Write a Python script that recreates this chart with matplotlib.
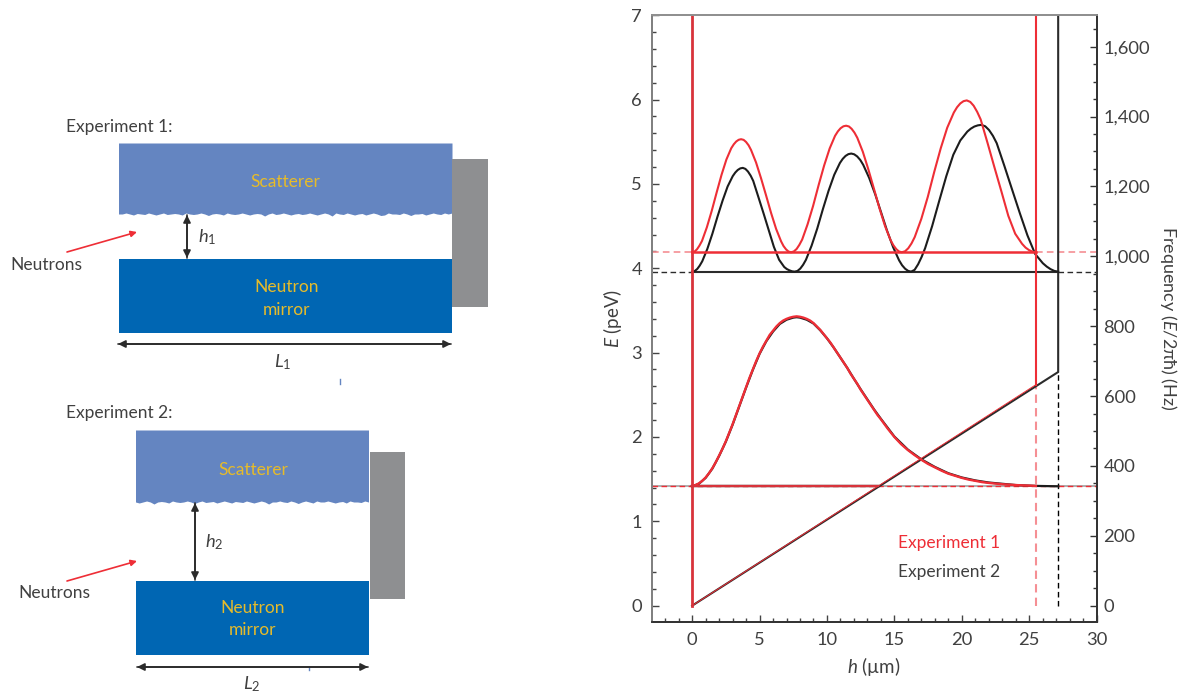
import numpy as np
import matplotlib
matplotlib.use('Agg')
import matplotlib.pyplot as plt
from matplotlib.patches import Polygon, Rectangle

plt.rcParams['font.family'] = ['Lato', 'DejaVu Sans']
plt.rcParams['mathtext.fontset'] = 'custom'
plt.rcParams['mathtext.rm'] = 'Lato'
plt.rcParams['mathtext.it'] = 'Lato:italic'

# lowest state, both experiments lie almost on top of each other
ground_h = [0, 0.25, 0.5, 0.75, 1, 1.25, 1.5, 1.75, 2, 2.25, 2.5, 2.75, 3, 3.25, 3.5, 3.75, 4, 4.25, 4.5, 4.75,
            5, 5.25, 5.5, 5.75, 6, 6.25, 6.5, 6.75, 7, 7.25, 7.5, 7.75, 8, 8.25, 8.5, 8.75, 9, 9.25, 9.5, 9.75,
            10, 10.25, 10.5, 10.75, 11, 11.25, 11.5, 11.75, 12, 12.25, 12.5, 12.75, 13, 13.25, 13.5, 13.75,
            14, 14.5, 15, 15.5, 16, 16.5, 17, 17.5, 18, 18.5, 19, 19.5, 20, 20.5, 21, 21.5, 22, 23, 24, 25.5]
ground_red = [1.42, 1.43, 1.45, 1.48, 1.52, 1.57, 1.63, 1.70, 1.78, 1.86, 1.95, 2.05, 2.15, 2.26, 2.37, 2.48, 2.59,
              2.70, 2.80, 2.90, 2.99, 3.07, 3.14, 3.21, 3.26, 3.31, 3.35, 3.38, 3.40, 3.415, 3.425, 3.43, 3.425,
              3.415, 3.40, 3.38, 3.35, 3.31, 3.27, 3.22, 3.17, 3.12, 3.06, 3.00, 2.94, 2.88, 2.82, 2.75, 2.69,
              2.63, 2.56, 2.50, 2.44, 2.38, 2.32, 2.26, 2.21, 2.10, 2.00, 1.915, 1.845, 1.785, 1.73, 1.68, 1.64,
              1.60, 1.565, 1.54, 1.515, 1.495, 1.48, 1.465, 1.455, 1.44, 1.43, 1.42]
ground_black_h = [0, 0.5, 1, 1.5, 2, 2.5, 3, 3.5, 4, 4.5, 5, 5.5, 6, 6.5, 7, 7.5, 7.75, 8, 8.5, 9, 9.5, 10, 10.5,
                  11, 11.5, 12, 12.5, 13, 13.5, 14, 15, 16, 17, 18, 19, 20, 21, 22, 23, 24, 25.5, 27.15]
ground_black = [1.415, 1.445, 1.515, 1.625, 1.775, 1.945, 2.145, 2.365, 2.585, 2.795, 2.985, 3.135, 3.25, 3.34, 3.39,
                3.415, 3.42, 3.415, 3.39, 3.345, 3.265, 3.17, 3.06, 2.94, 2.82, 2.69, 2.565, 2.445, 2.325, 2.215,
                2.005, 1.85, 1.735, 1.645, 1.57, 1.52, 1.485, 1.46, 1.445, 1.43, 1.42, 1.415]

# third state, experiment 1
red_h = [0, 0.18, 0.36, 0.54, 0.73, 1.09, 1.45, 1.82, 2.18, 2.54, 2.90, 3.09, 3.27, 3.45, 3.63,
         3.82, 4.00, 4.19, 4.37, 4.74, 5.11, 5.49, 5.86, 6.23, 6.60, 6.78, 6.97, 7.15, 7.34,
         7.54, 7.75, 7.95, 8.16, 8.56, 8.97, 9.38, 9.79, 10.20, 10.60, 10.81, 11.01, 11.22, 11.42,
         11.63, 11.83, 12.04, 12.25, 12.66, 13.07, 13.49, 13.90, 14.31, 14.72, 14.93, 15.14, 15.34, 15.55,
         15.79, 16.03, 16.27, 16.51, 17.00, 17.48, 17.96, 18.44, 18.92, 19.41, 19.65, 19.89, 20.13, 20.37,
         20.63, 20.88, 21.14, 21.40, 21.91, 22.42, 22.94, 23.45, 23.96, 24.47, 24.73, 24.99, 25.24, 25.50]
red_E = [4.190, 4.198, 4.225, 4.268, 4.324, 4.485, 4.679, 4.900, 5.108, 5.289, 5.423, 5.470, 5.503, 5.523, 5.530,
         5.522, 5.497, 5.457, 5.402, 5.254, 5.067, 4.860, 4.653, 4.466, 4.318, 4.263, 4.223, 4.198, 4.190,
         4.199, 4.229, 4.277, 4.340, 4.520, 4.738, 4.985, 5.218, 5.420, 5.570, 5.623, 5.660, 5.683, 5.690,
         5.681, 5.653, 5.608, 5.547, 5.381, 5.172, 4.940, 4.708, 4.499, 4.333, 4.272, 4.227, 4.199, 4.190,
         4.201, 4.237, 4.294, 4.370, 4.586, 4.847, 5.144, 5.423, 5.666, 5.846, 5.909, 5.954, 5.981, 5.990,
         5.972, 5.927, 5.855, 5.765, 5.486, 5.198, 4.910, 4.622, 4.410, 4.290, 4.245, 4.215, 4.197, 4.190]

# third state, experiment 2
black_h = [0, 0.19, 0.38, 0.56, 0.75, 1.13, 1.50, 1.88, 2.26, 2.63, 3.01, 3.20, 3.38, 3.57, 3.76,
           3.95, 4.14, 4.34, 4.53, 4.91, 5.30, 5.68, 6.06, 6.45, 6.83, 7.02, 7.22, 7.41, 7.60,
           7.81, 8.02, 8.23, 8.44, 8.86, 9.28, 9.70, 10.12, 10.54, 10.96, 11.17, 11.38, 11.59, 11.80,
           12.02, 12.24, 12.47, 12.69, 13.13, 13.58, 14.02, 14.46, 14.91, 15.35, 15.57, 15.80, 16.02, 16.24,
           16.50, 16.76, 17.02, 17.28, 17.80, 18.32, 18.85, 19.37, 19.89, 20.41, 20.67, 20.93, 21.19, 21.45,
           21.74, 22.02, 22.31, 22.59, 23.16, 23.73, 24.30, 24.87, 25.44, 26.01, 26.30, 26.58, 26.87, 27.15]
black_E = [3.960, 3.967, 3.992, 4.031, 4.083, 4.231, 4.409, 4.612, 4.803, 4.969, 5.092, 5.135, 5.165, 5.184, 5.190,
           5.178, 5.147, 5.098, 5.036, 4.846, 4.649, 4.452, 4.255, 4.101, 4.015, 3.991, 3.975, 3.964, 3.960,
           3.968, 3.996, 4.041, 4.100, 4.268, 4.471, 4.702, 4.919, 5.108, 5.248, 5.297, 5.332, 5.353, 5.360,
           5.351, 5.326, 5.284, 5.226, 5.071, 4.876, 4.660, 4.444, 4.249, 4.094, 4.036, 3.994, 3.969, 3.960,
           3.981, 4.047, 4.134, 4.238, 4.499, 4.795, 5.091, 5.345, 5.515, 5.620, 5.655, 5.680, 5.694, 5.700,
           5.683, 5.639, 5.570, 5.483, 5.213, 4.934, 4.656, 4.390, 4.170, 4.060, 4.020, 3.990, 3.968, 3.960]

# wall positions and levels
wall1, wall2 = 25.5, 27.15
wall1_E, wall2_E = 2.62, 2.77
level_low = 1.415
level_red, level_black = 4.19, 3.96
crossing = 13.8

x_ticks = [0, 5, 10, 15, 20, 25, 30]
E_ticks = [0, 1, 2, 3, 4, 5, 6, 7]
freq_ticks = [0, 200, 400, 600, 800, 1000, 1200, 1400, 1600]
freq_labels = ['0', '200', '400', '600', '800', '1,000', '1,200', '1,400', '1,600']

# rough underside of the scatterer, pixels below the plate edge
rough1 = [0, 1, 0, 1.5, 1, 0, 1, 2, 0.5, 1, 1, 2.5, 1, 0, 1.5, 1, 1, 0, 2, 2.5, 1, 0, 1, 2, 0.5, 1, 2, 1, 0, 1.5,
          1, 0, 3, 1, 0, 1, 2, 1, 0, 1, 1.5, 0.5, 1, 2, 1, 0, 1, 1.5, 0, 1, 3, 1, 0.5, 1, 2, 1, 0, 1, 1.5, 1,
          0, 2, 1, 0.5, 1, 2.5, 1, 0, 1, 1.5, 1, 0, 2, 1, 0.5, 1, 1.5, 0, 1, 2, 1, 0, 1.5, 1, 0.5, 2, 1, 0, 1, 1]
rough2 = [1, 0, 1.5, 1, 1, 0, 2, 0.5, 1, 2, 1, 0, 1, 1, 0, 2, 1, 0, 1, 2.5, 1, 0, 1.5, 1, 0, 1, 1, 3, 1, 0, 1, 2,
          1, 0, 1.5, 1, 0.5, 2, 1, 0, 1, 2, 0.5, 1, 1.5, 0, 1, 2.5, 1, 0, 1, 1.5, 1, 0, 2, 1, 0.5, 1, 3, 1, 0, 1, 2, 1]

RED = '#ee2e36'
PINK = '#f58f94'
DARK = '#2b2b2b'
TEXT = '#404040'
GOLD = '#e6bb2a'
LIGHTBLUE = '#6485c1'
BLUE = '#0066b3'
GREY = '#8e8f91'
FS = 13.2

fig = plt.figure(figsize=(11.83, 6.94), dpi=100)

# schematic on the left, drawn in picture pixels
sk = fig.add_axes([0, 0, 1, 1])
sk.set_xlim(0, 1183)
sk.set_ylim(694, 0)
sk.axis('off')


def plates(x0, x1, top, edge, rough, mir_top, mir_bot, gx0, gx1, gy0, gy1):
    xs = np.linspace(x0, x1, len(rough))
    pts = [(x0, top), (x1, top)] + [(x, edge + r) for x, r in zip(xs[::-1], rough)]
    sk.add_patch(Polygon(pts, closed=True, fc=LIGHTBLUE, ec='none'))
    sk.add_patch(Rectangle((gx0, gy0), gx1 - gx0, gy1 - gy0, fc=GREY, ec='none'))
    sk.add_patch(Rectangle((x0, mir_top), x1 - x0, mir_bot - mir_top, fc=BLUE, ec='none'))


def arrow(x0, y0, x1, y1, color=DARK, lw=1.2, head=11):
    sk.annotate('', xy=(x1, y1), xytext=(x0, y0),
                arrowprops=dict(arrowstyle='-|>', color=color, lw=lw, shrinkA=0, shrinkB=0,
                                mutation_scale=head))


def both(x0, y0, x1, y1):
    arrow(x0, y0, x1, y1)
    arrow(x1, y1, x0, y0)


plates(119, 452.5, 143.5, 213.5, rough1, 259, 333, 452, 488, 159, 307)
plates(136, 369, 430.5, 501.5, rough2, 581, 655, 370, 405, 452, 599)

for y, s in [(127, 'Experiment 1:'), (413, 'Experiment 2:')]:
    sk.text(66, y, s, fontsize=12.5, color=TEXT, ha='left', va='center')
for x, y, s in [(285, 182, 'Scatterer'), (287, 287, 'Neutron'), (287, 310, 'mirror'),
                (253, 470, 'Scatterer'), (253, 608, 'Neutron'), (253, 630, 'mirror')]:
    sk.text(x, y, s, fontsize=12.5, color=GOLD, ha='center', va='center')
sk.text(10, 265, 'Neutrons', fontsize=12.5, color=TEXT, ha='left', va='center')
sk.text(18, 593, 'Neutrons', fontsize=12.5, color=TEXT, ha='left', va='center')

arrow(67, 252, 137, 232, color=RED, head=9)
arrow(67, 581, 137, 561, color=RED, head=9)
both(187, 215, 187, 258)
both(195, 503, 195, 580)
both(118, 344, 451, 344)
both(137, 667, 368, 667)

sk.text(198, 237, r'$\mathit{h}_{\mathrm{1}}$', fontsize=FS, color=TEXT, ha='left', va='center')
sk.text(205, 542, r'$\mathit{h}_{\mathrm{2}}$', fontsize=FS, color=TEXT, ha='left', va='center')
sk.text(283, 362, r'$\mathit{L}_{\mathrm{1}}$', fontsize=FS, color=TEXT, ha='center', va='center')
sk.text(252, 684, r'$\mathit{L}_{\mathrm{2}}$', fontsize=FS, color=TEXT, ha='center', va='center')

# specks left over in the source
sk.plot([340.5, 340.5], [379, 384], color=LIGHTBLUE, lw=1)
sk.plot([309, 309], [667, 670], color=LIGHTBLUE, lw=1)

# energy plot
W, H = 1183.0, 694.0
ax = fig.add_axes([651.7 / W, 1 - 622.3 / H, (1096.6 - 651.7) / W, (622.3 - 15.2) / H])
ax.patch.set_alpha(0)
ax.set_xlim(-3, 30)
ax.set_ylim(-0.197, 7)

dash = (0, (4, 2.5))
ax.plot([-3, 0], [level_black, level_black], color=DARK, lw=1, ls=dash)
ax.plot([wall2, 30], [level_black, level_black], color=DARK, lw=1, ls=dash)
ax.plot([-3, 0], [level_red, level_red], color=PINK, lw=1.2, ls=dash)
ax.plot([wall1, 30], [level_red, level_red], color=PINK, lw=1.2, ls=dash)
ax.plot([-3, 30], [level_low, level_low], color='#999999', lw=1.1)
ax.plot([-3, 30], [level_low, level_low], color=RED, lw=1, ls=dash)
ax.plot([wall1, wall1], [0, wall1_E], color=PINK, lw=1.5, ls=dash)
ax.plot([wall2, wall2], [0, wall2_E], color='black', lw=1, ls=dash)

# experiment 2 underneath
ax.plot([0, wall2, wall2], [0, wall2_E, 7], color=DARK, lw=1.5, solid_joinstyle='miter')
ax.plot([0, wall2], [level_black, level_black], color=DARK, lw=1.5)
ax.plot(black_h, black_E, color='#1c1c1c', lw=1.5)
ax.plot(ground_black_h, ground_black, color='#1c1c1c', lw=1.6)
ax.plot([0, crossing], [level_low, level_low], color=DARK, lw=1.7)

# experiment 1 on top
ax.plot([0, wall1], [0, wall1_E], color=RED, lw=0.7)
ax.plot([wall1, wall1], [wall1_E, 7], color=RED, lw=1.5)
ax.plot([0, 0], [0, 7], color='#d8333b', lw=2)
ax.plot([0, wall1], [level_red, level_red], color=RED, lw=1.8)
ax.plot(red_h, red_E, color=RED, lw=1.5)
ax.plot(ground_h, ground_red, color=RED, lw=1.7)
ax.plot([0, crossing], [level_low, level_low], color='#d8333b', lw=1.6)

ax.text(15.28, 0.745, 'Experiment 1', color=RED, fontsize=12.5, ha='left', va='center')
ax.text(15.28, 0.40, 'Experiment 2', color=TEXT, fontsize=12.5, ha='left', va='center')

ax.set_xticks(x_ticks)
ax.set_xticks(np.arange(-2, 30, 1), minor=True)
ax.set_yticks(E_ticks)
ax.set_yticks(np.arange(0, 7.01, 0.2), minor=True)
ax.tick_params(which='major', direction='in', length=5, width=1, color='#444444',
               labelsize=FS, labelcolor=TEXT, pad=7)
ax.tick_params(which='minor', direction='in', length=3, width=1, color='#444444')
ax.set_xlabel(r'$\mathit{h}$ (µm)', fontsize=13.5, color=TEXT, labelpad=5)
ax.set_ylabel(r'$\mathit{E}$ (peV)', fontsize=13.5, color=TEXT, labelpad=5)

ax2 = ax.twinx()
ax2.set_ylim(-47.5, 1690)
ax2.set_yticks(freq_ticks)
ax2.set_yticklabels(freq_labels)
ax2.set_yticks(np.arange(0, 1690, 50), minor=True)
ax2.tick_params(which='major', direction='in', length=5, width=1, color='#333333',
                labelsize=FS, labelcolor=TEXT, pad=5)
ax2.tick_params(which='minor', direction='in', length=3, width=1, color='#333333')
ax2.set_ylabel(r'Frequency ($\mathit{E}$/2πħ) (Hz)', fontsize=13, color=TEXT, rotation=270,
               labelpad=21)

for a in (ax, ax2):
    a.spines['left'].set_color('#808080')
    a.spines['top'].set_color('#909090')
    a.spines['right'].set_color('#333333')
    a.spines['bottom'].set_color('#333333')
    for s in a.spines.values():
        s.set_linewidth(1.3)

fig.savefig('out.png', dpi=100)
